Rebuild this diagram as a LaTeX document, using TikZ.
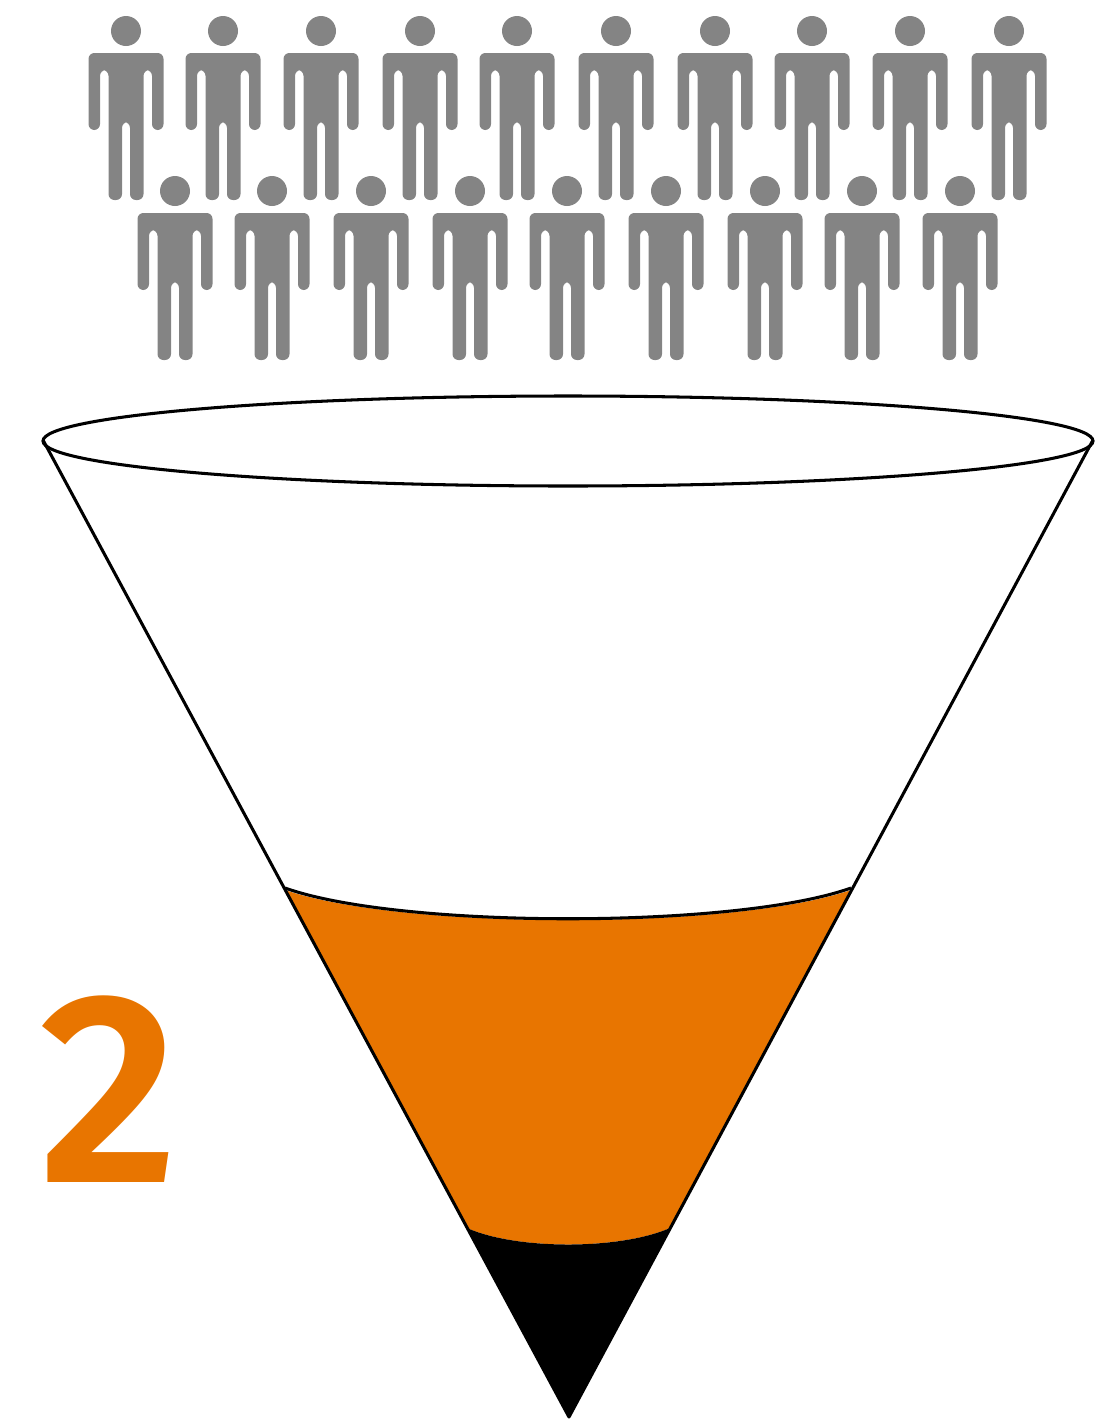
\documentclass[tikz,border=0pt]{standalone}
\usepackage{fontspec}
\usepackage{xcolor}
\setsansfont{Fira Sans SemiBold}
\definecolor{funnelorange}{HTML}{E87500}
\definecolor{persongray}{HTML}{848484}

\begin{document}
\begin{tikzpicture}[
    x=0.03cm, y=-0.03cm,
    rim/.style={draw=black, line width=2.6pt},
    person/.pic={
        \fill[persongray] (0,0) circle (15);
        \fill[persongray, rounded corners=5pt]
            (-37.5,22) -- (37.5,22) -- (37.5,99) -- (26,99) -- (26,39) -- (17.5,39)
            -- (17.5,169) -- (4,169) -- (4,91) -- (-4,91) -- (-4,169) -- (-17.5,169)
            -- (-17.5,39) -- (-26,39) -- (-26,99) -- (-37.5,99) -- cycle;
    }
]
    \useasboundingbox (0,0) rectangle (1096,1419);

    % People, two rows
    \foreach \px in {126,223,321,420,517,616,715,812,910,1009}
        \pic at (\px,31) {person};
    \foreach \px in {175,272,371,470,567,666,765,862,960}
        \pic at (\px,191) {person};

    % Funnel contents
    \fill[funnelorange] (285,890) .. controls (400,930) and (736,930) .. (851,890)
        -- (670,1228) .. controls (620,1250) and (516,1250) .. (467,1228) -- cycle;
    \fill[black] (467,1228) .. controls (516,1250) and (620,1250) .. (670,1228)
        -- (569,1417) -- cycle;

    % Funnel outline
    \draw[rim] (568,441) ellipse [x radius=525, y radius=45];
    \draw[rim, line join=round] (43,440) -- (569,1417) -- (1093,440);
    \draw[rim] (285,888) .. controls (400,929) and (736,929) .. (851,888);

    % Number
    \node[font=\sffamily\fontsize{232pt}{232pt}\selectfont, text=funnelorange, inner sep=0pt] (number) at (109,1089) {2};
\end{tikzpicture}
\end{document}
